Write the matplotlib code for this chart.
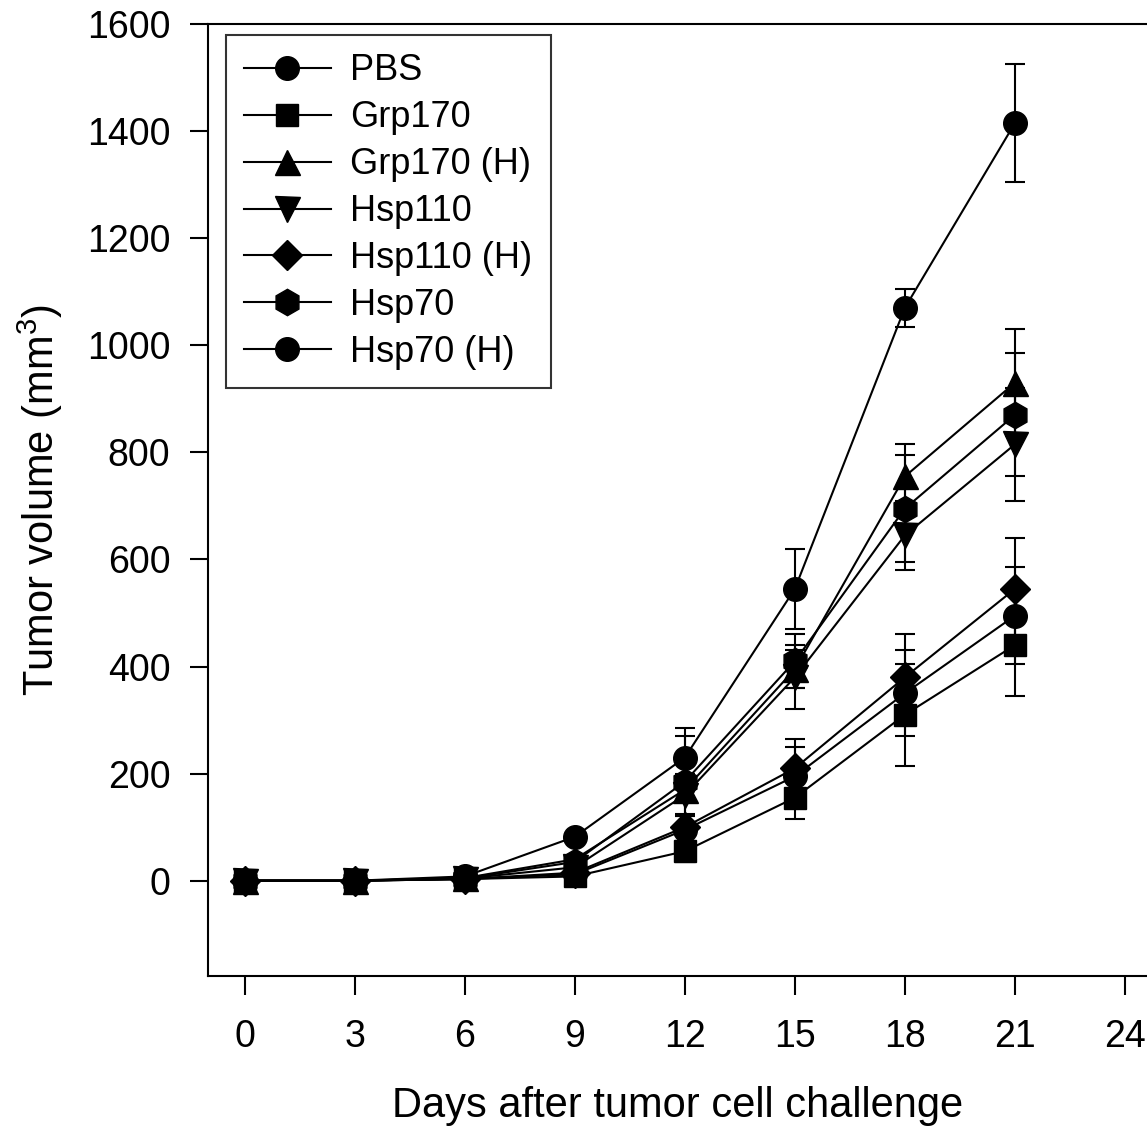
import numpy as np
import matplotlib
matplotlib.use('Agg')
import matplotlib.pyplot as plt
from matplotlib.lines import Line2D

plt.rcParams['font.family'] = ['Liberation Sans', 'DejaVu Sans']
plt.rcParams['mathtext.fontset'] = 'custom'
plt.rcParams['mathtext.rm'] = 'Liberation Sans'

days = [0, 3, 6, 9, 12, 15, 18, 21]

series_names = ['PBS', 'Grp170', 'Grp170 (H)', 'Hsp110', 'Hsp110 (H)',
                'Hsp70', 'Hsp70 (H)']
pbs = [0, 0, 8, 82, 230, 545, 1070, 1415]
pbs_err = [0, 0, 0, 5, 55, 75, 35, 110]
grp170 = [0, 0, 3, 8, 55, 155, 310, 440]
grp170_err = [0, 0, 0, 0, 20, 40, 95, 95]
grp170_h = [0, 0, 5, 40, 170, 395, 755, 930]
grp170_h_err = [0, 0, 0, 5, 20, 35, 60, 100]
hsp110 = [0, 0, 4, 25, 160, 380, 645, 815]
hsp110_err = [0, 0, 0, 5, 40, 60, 65, 105]
hsp110_h = [0, 0, 3, 15, 100, 210, 380, 545]
hsp110_h_err = [0, 0, 0, 5, 25, 55, 80, 95]
hsp70 = [0, 0, 4, 35, 185, 410, 695, 870]
hsp70_err = [0, 0, 0, 5, 85, 50, 100, 115]
hsp70_h = [0, 0, 3, 12, 95, 195, 350, 495]
hsp70_h_err = [0, 0, 0, 5, 25, 55, 80, 90]

values = [pbs, grp170, grp170_h, hsp110, hsp110_h, hsp70, hsp70_h]
errors = [pbs_err, grp170_err, grp170_h_err, hsp110_err, hsp110_h_err,
          hsp70_err, hsp70_h_err]
markers = ['o', 's', '^', 'v', 'D', 'h', 'o']
sizes = [17, 16, 18, 18, 15, 19, 17]

fig = plt.figure(figsize=(11.47, 11.26), dpi=100)
ax = fig.add_axes([0.1813, 0.1332, 1.0 - 0.1813, 0.9787 - 0.1332])

handles = []
for name, y, e, m, s in zip(series_names, values, errors, markers, sizes):
    ax.errorbar(days, y, yerr=e, color='black', marker=m, markersize=s,
                linewidth=1.5, elinewidth=1.5, capsize=7, capthick=1.5,
                markeredgecolor='black', markerfacecolor='black')
    handles.append(Line2D([], [], color='black', marker=m, markersize=s,
                          linewidth=1.5, label=name))

ax.set_xlim(-1, 24.6)
ax.set_ylim(-178, 1600)
ax.set_xticks([0, 3, 6, 9, 12, 15, 18, 21, 24])
ax.set_yticks(np.arange(0, 1601, 200))
ax.spines['right'].set_visible(False)
for sp in ['left', 'bottom', 'top']:
    ax.spines[sp].set_linewidth(1.5)

ax.tick_params(axis='y', direction='out', length=13, width=1.5, pad=14,
               labelsize=27)
ax.tick_params(axis='x', direction='out', length=14, width=1.5, pad=17,
               labelsize=27)

ax.set_xlabel('Days after tumor cell challenge', fontsize=30, labelpad=22)
ax.set_ylabel(r'Tumor volume (mm$^{\mathregular{3}}$)', fontsize=30,
              labelpad=16)

leg = ax.legend(handles=handles, loc='upper left',
                bbox_to_anchor=(0.019, 0.988), fontsize=26,
                frameon=True, fancybox=False, handlelength=2.4,
                handletextpad=0.55, labelspacing=0.33, borderpad=0.5,
                borderaxespad=0)
leg.get_frame().set_edgecolor('black')
leg.get_frame().set_linewidth(1.5)

plt.savefig('out.png', dpi=100)
